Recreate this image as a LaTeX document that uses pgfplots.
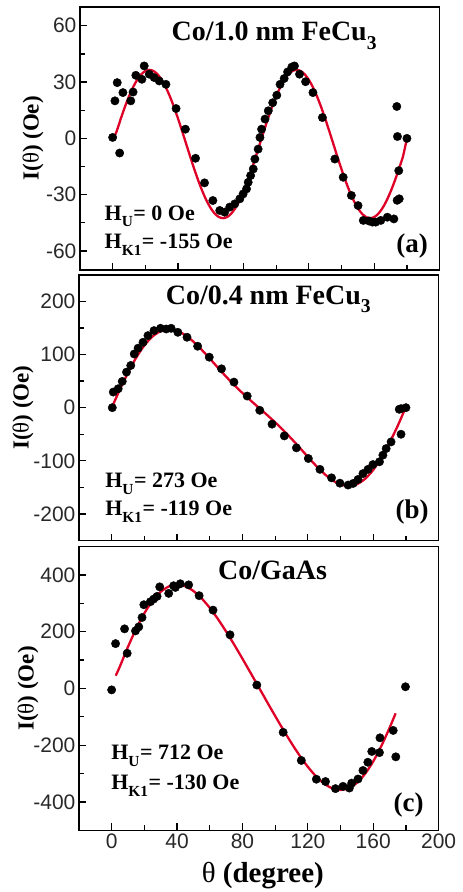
\documentclass[border=0pt]{standalone}
\usepackage{fontspec}
\setmainfont{Liberation Serif}
\newfontfamily\arialf{Liberation Sans}
\usepackage{pgfplots}
\pgfplotsset{compat=1.18}
\definecolor{fitred}{RGB}{222,0,38}
\definecolor{tickgray}{RGB}{40,40,40}
\pgfplotsset{
  panel/.style={
    scale only axis, width=360bp, anchor=north west,
    xmin=-20, xmax=200, xtick={0,40,...,200}, minor x tick num=1,
    tick pos=left, minor y tick num=1,
    major tick length=7bp, minor tick length=5bp,
    axis line style={line width=1.5bp},
    every tick/.style={line width=1.2bp, black},
    tick label style={font=\arialf\fontsize{21bp}{21bp}\selectfont, text=tickgray},
    /pgf/number format/assume math mode=true,
    ylabel={\fontsize{23bp}{23bp}\selectfont\bfseries I(\textmd{θ}) (Oe)},
    clip=false,
  },
  ylab/.style={every axis y label/.style={at={(rel axis cs:0,0.5)}, xshift=#1, rotate=90, anchor=center}},
  fitline/.style={fitred, line width=2.3bp, smooth, no markers},
  pts/.style={only marks, mark=*, mark size=4.2bp, black},
}
\newcommand{\ttl}{\fontsize{28bp}{28bp}\selectfont\bfseries}
\newcommand{\ann}{\fontsize{22bp}{22bp}\selectfont\bfseries}
\newcommand{\lab}{\fontsize{27bp}{27bp}\selectfont\bfseries}
\newcommand{\sub}[1]{\raisebox{-0.15em}{\textsubscript{#1}}}
\begin{document}
\begin{tikzpicture}
\path (0,0) rectangle (463bp,-892bp);

% (a) Co/1.0 nm FeCu3
\begin{axis}[panel, ylab=-47bp, at={(80bp,-7bp)}, height=263bp,
  ymin=-70, ymax=70, ytick={-60,-30,0,30,60}, xticklabels={}]
\addplot[pts] coordinates {(0,0.5)(1.4,20)(2.8,29.7)(4.3,-7.8)(6.3,24.4)(11.1,20)(12.5,24.7)(14.2,33.6)(17.9,31.5)(19.3,38.6)(22.4,34.2)(25.4,32.4)(28.5,30.6)(32.6,28.8)(38.8,15.9)(44.5,4.9)(50.7,-10.6)(56.2,-23.7)(61.3,-33.1)(65.5,-38.4)(68.5,-39.3)(71.6,-36.6)(74.7,-34.9)(77.8,-32.2)(79.8,-29.6)(81.9,-26.9)(82.9,-23.4)(84.4,-19.8)(86,-16.3)(87,-11)(89,-5.7)(90.1,0.5)(91.1,4.9)(93.2,10.3)(95.2,14.7)(97.9,19)(100.4,23)(102.4,28.8)(104.9,31.9)(107,35.4)(109.6,38)(111.2,38.6)(114.3,34.2)(118,30.2)(122.5,24.4)(128.3,11.1)(135.9,-11)(141,-20.7)(146,-30.4)(150.1,-35.8)(153.3,-43.7)(156.8,-44)(158.9,-44.6)(160.9,-44.6)(164,-43.7)(168,-42)(172,-42.9)(174,-33)(175.3,-32.2)(175,-17.2)(173.8,17)(174.2,1)(180,0)};
\addplot[fitline] coordinates {(0.8,0.5)(2.5,3.86)(5,10.51)(7.5,16.75)(10,22.39)(12.5,27.26)(15,31.21)(17.5,34.12)(20,35.9)(22.5,36.5)(25,35.9)(27.5,34.12)(30,31.21)(32.5,27.26)(35,22.39)(37.5,16.75)(40,10.51)(42.5,3.86)(45,-3)(47.5,-9.86)(50,-16.51)(52.5,-22.75)(55,-28.39)(57.5,-33.26)(60,-37.21)(62.5,-40.12)(65,-41.9)(67.5,-42.5)(70,-41.9)(72.5,-40.12)(75,-37.21)(77.5,-33.26)(80,-28.39)(82.5,-22.75)(85,-16.51)(87.5,-9.86)(90,-3)(92.5,3.86)(95,10.51)(97.5,16.75)(100,22.39)(102.5,27.26)(105,31.21)(107.5,34.12)(110,35.9)(112.5,36.5)(115,35.9)(117.5,34.12)(120,31.21)(122.5,27.26)(125,22.39)(127.5,16.75)(130,10.51)(132.5,3.86)(135,-3)(137.5,-9.86)(140,-16.51)(142.5,-22.75)(145,-28.39)(147.5,-33.26)(150,-37.21)(152.5,-40.12)(155,-41.9)(157.5,-42.5)(160,-41.9)(162.5,-40.12)(165,-37.21)(167.5,-33.26)(170,-28.39)(172.5,-22.75)(175,-16.51)(177.5,-9.86)(179.5,-2)};
\node[anchor=base west, font=\ttl] at (axis cs:34,52) {Co/1.0 nm FeCu\sub{3}};
\node[anchor=base west, font=\ann] at (axis cs:-7,-43.8) {H\sub{U}= 0 Oe};
\node[anchor=base west, font=\ann] at (axis cs:-7,-58.8) {H\sub{K1}= -155 Oe};
\node[anchor=base east, font=\lab] at (axis cs:195,-61) {(a)};
\end{axis}

% (b) Co/0.4 nm FeCu3
\begin{axis}[panel, ylab=-56bp, at={(79bp,-275bp)}, height=266bp,
  ymin=-250, ymax=250, ytick={-200,-100,0,100,200}, xticklabels={}]
\addplot[pts] coordinates {(0.4,0)(1,29.4)(4,35.6)(6.5,49.4)(9.1,66.9)(11.7,79.4)(13.8,101)(16.2,112)(19.2,123)(22.2,135.6)(25.9,145)(29.9,149.3)(33.4,148)(36.4,149.3)(40.5,141.8)(46.1,132.5)(52.6,115.6)(59.7,95)(67.2,73.1)(74.8,48.1)(82.9,21.9)(90.6,-5)(98.1,-31)(105.6,-53.1)(113,-75.6)(120.3,-95.6)(127.4,-116)(134.5,-132)(139.6,-142)(144.6,-145.6)(147.7,-142.5)(150.7,-135)(153.7,-124)(156.8,-116)(159.8,-107)(163.8,-101.8)(165.9,-89.3)(167.9,-76.9)(170.9,-64.4)(177,-50)(175.9,-3)(177,-1.9)(180,0)};
\addplot[fitline] coordinates {(0.5,3)(5,33.87)(10,65.81)(15,94.01)(20,117.04)(25,133.86)(30,143.97)(35,147.39)(40,144.6)(45,136.5)(50,124.26)(55,109.15)(60,92.45)(65,75.26)(70,58.44)(75,42.49)(80,27.57)(85,13.53)(90,0)(95,-13.53)(100,-27.57)(105,-42.49)(110,-58.44)(115,-75.26)(120,-92.45)(125,-109.15)(130,-124.26)(135,-136.5)(140,-144.6)(145,-147.39)(150,-143.97)(155,-133.86)(160,-117.04)(165,-94.01)(170,-65.81)(175,-33.87)(179.5,-2)};
\node[anchor=base west, font=\ttl] at (axis cs:31,195) {Co/0.4 nm FeCu\sub{3}};
\node[anchor=base west, font=\ann] at (axis cs:-6,-150.5) {H\sub{U}= 273 Oe};
\node[anchor=base west, font=\ann] at (axis cs:-6,-203.7) {H\sub{K1}= -119 Oe};
\node[anchor=base east, font=\lab] at (axis cs:196,-208) {(b)};
\end{axis}

% (c) Co/GaAs
\begin{axis}[panel, ylab=-51bp, at={(79bp,-547bp)}, height=284bp,
  ymin=-500, ymax=500, ytick={-400,-200,0,200,400},
  xlabel={\fontsize{29bp}{29bp}\selectfont\bfseries \textmd{θ} (degree)},
  every axis x label/.style={at={(rel axis cs:0.5,0)}, anchor=base, xshift=4bp, yshift=-52bp}]
\addplot[pts] coordinates {(0,-5)(2.4,158)(7.9,210)(9.5,124)(14.6,203)(16.6,217)(18.6,250)(19.7,295)(23.7,305.6)(25.7,315)(27.8,324.5)(29.4,358)(34.9,335)(37.9,362)(39,356)(42,369)(47.1,365)(53.5,327)(62,276)(72.4,189)(88.8,12)(104.9,-154.6)(116,-253.7)(125.2,-319.8)(130.8,-328)(136.9,-353)(141.5,-345)(145.4,-351)(146.8,-333.6)(150.7,-319)(153.7,-289)(156.7,-260)(159.1,-222)(163.8,-226)(164.1,-174)(172.2,-148)(173.8,-241)(179.7,6)};
\addplot[fitline] coordinates {(2.5,45)(5,76.9)(10,146.7)(15,210.2)(20,264.9)(25,308.7)(30,340.5)(35,359.4)(40,365.7)(45,360)(50,343.5)(55,317.6)(60,284.2)(65,244.7)(70,200.8)(75,153.9)(80,104.9)(85,54.7)(90,4)(95,-46.7)(100,-96.9)(105,-145.9)(110,-192.8)(115,-236.7)(120,-276.2)(125,-309.6)(130,-335.5)(135,-352)(140,-357.7)(145,-351.4)(150,-332.5)(155,-300.7)(160,-256.9)(165,-202.2)(170,-138.7)(173.7,-87.5)};
\node[anchor=base west, font=\ttl] at (axis cs:63,383) {Co/GaAs};
\node[anchor=base west, font=\ann] at (axis cs:-2.3,-251) {H\sub{U}= 712 Oe};
\node[anchor=base west, font=\ann] at (axis cs:-2.3,-357.5) {H\sub{K1}= -130 Oe};
\node[anchor=base east, font=\lab] at (axis cs:193,-434) {(c)};
\end{axis}
\end{tikzpicture}
\end{document}
